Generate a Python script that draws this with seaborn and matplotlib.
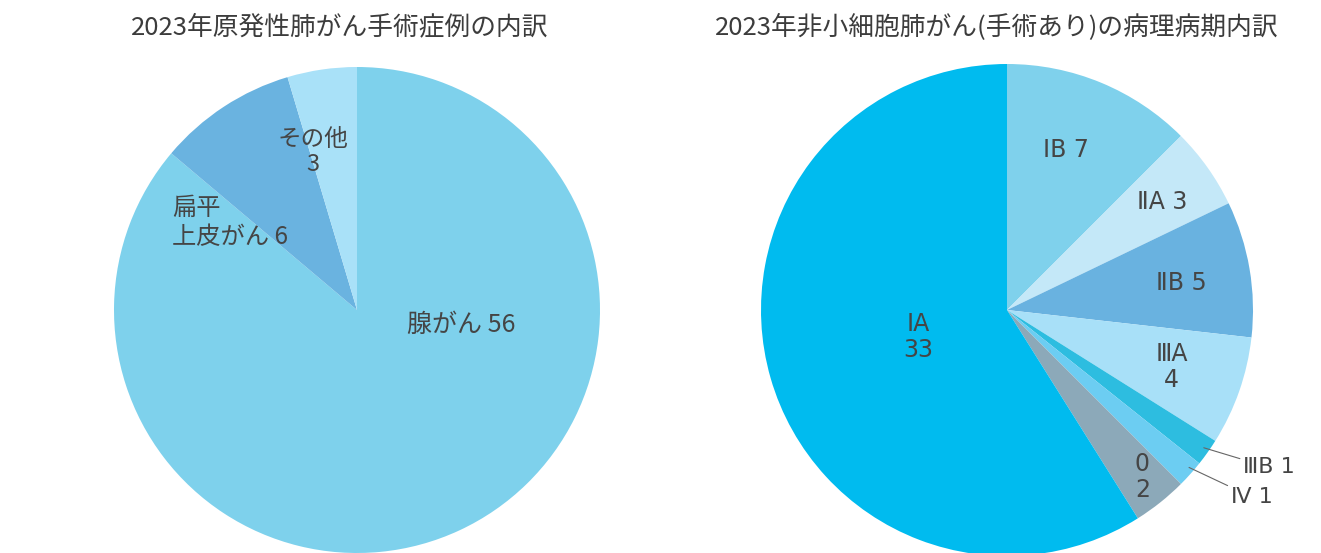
import matplotlib
matplotlib.use("Agg")
import matplotlib.pyplot as plt
import seaborn as sns
import numpy as np

# --- data -------------------------------------------------------------
type_labels = ["腺がん", "扁平\n上皮がん", "その他"]
type_counts = [56, 6, 3]
type_colors = ["#7ed1ec", "#6ab3e0", "#a9e1f8"]

stage_labels = ["ⅠB", "ⅡA", "ⅡB", "ⅢA", "ⅢB", "Ⅳ", "0", "ⅠA"]
stage_counts = [7, 3, 5, 4, 1, 1, 2, 33]
stage_colors = ["#7fd1ec", "#c4e8f8", "#69b2e0", "#a8e0f8",
                "#2dbde0", "#6ccdf2", "#8ca9b9", "#00bbef"]

title_left = "2023年原発性肺がん手術症例の内訳"
title_right = "2023年非小細胞肺がん(手術あり)の病理病期内訳"

# --- style ------------------------------------------------------------
sns.set_theme(style="white")
plt.rcParams["font.family"] = ["Noto Sans CJK JP", "DejaVu Sans"]
TEXT = "#454545"
STAGE_FONT = ["DejaVu Sans", "Noto Sans CJK JP"]

W, H, DPI = 1321, 553, 100
fig = plt.figure(figsize=(W / DPI, H / DPI), dpi=DPI)
fig.patch.set_facecolor("white")


def pie_axes(cx, cy, r):
    """Axes whose data range [-1, 1] maps to a circle of radius r px at (cx, cy)."""
    ax = fig.add_axes([(cx - r) / W, (cy - r) / H, 2 * r / W, 2 * r / H])
    ax.set_xlim(-1, 1)
    ax.set_ylim(-1, 1)
    ax.set_aspect("equal", adjustable="box")
    ax.axis("off")
    return ax


def draw_pie(ax, counts, colors):
    ax.pie(counts, colors=sns.color_palette(colors), startangle=90,
           counterclock=False, radius=1,
           wedgeprops=dict(linewidth=0, edgecolor="none"))
    ax.set_xlim(-1, 1)
    ax.set_ylim(-1, 1)


# --- left pie: histological type ----------------------------------------
axL = pie_axes(357, H - 310, 243)
draw_pie(axL, type_counts, type_colors)

axL.text(0.43, -0.06, f"{type_labels[0]} {type_counts[0]}", ha="center",
         va="center", fontsize=18, color=TEXT)
axL.text(-0.76, 0.36, f"{type_labels[1]} {type_counts[1]}", ha="left",
         va="center", fontsize=17.5, color=TEXT, linespacing=1.15)
axL.text(-0.18, 0.65, f"{type_labels[2]}\n{type_counts[2]}", ha="center",
         va="center", fontsize=17, color=TEXT, linespacing=1.1)

# --- right pie: pathological stage --------------------------------------
axR = pie_axes(1007, H - 310, 246)
draw_pie(axR, stage_counts, stage_colors)

inside = {
    "ⅠB": (0.24, 0.65, " "),
    "ⅡA": (0.63, 0.44, " "),
    "ⅡB": (0.71, 0.11, " "),
    "ⅢA": (0.67, -0.23, "\n"),
    "0": (0.55, -0.68, "\n"),
    "ⅠA": (-0.36, -0.11, "\n"),
}
for lab, n in zip(stage_labels, stage_counts):
    if lab in inside:
        x, y, sep = inside[lab]
        axR.text(x, y, f"{lab}{sep}{n}", ha="center", va="center",
                 fontsize=17, color=TEXT, linespacing=1.1, family=STAGE_FONT)

outside = {
    "ⅢB": ((0.80, -0.56), (0.96, -0.64)),
    "Ⅳ": ((0.74, -0.64), (0.91, -0.76)),
}
for lab, n in zip(stage_labels, stage_counts):
    if lab in outside:
        xy, xyt = outside[lab]
        axR.annotate(f"{lab} {n}", xy=xy, xytext=xyt, ha="left", va="center",
                     fontsize=16, color=TEXT, annotation_clip=False,
                     family=STAGE_FONT,
                     arrowprops=dict(arrowstyle="-", color="#666666", lw=0.8,
                                     shrinkA=0, shrinkB=0))

# --- titles ------------------------------------------------------------------
fig.text(340 / W, (H - 27) / H, title_left, ha="center", va="center",
         fontsize=18.5, color="#3c3c3c")
fig.text(997 / W, (H - 27) / H, title_right, ha="center", va="center",
         fontsize=18.5, color="#3c3c3c")

fig.savefig("out.png", dpi=DPI, facecolor="white")
